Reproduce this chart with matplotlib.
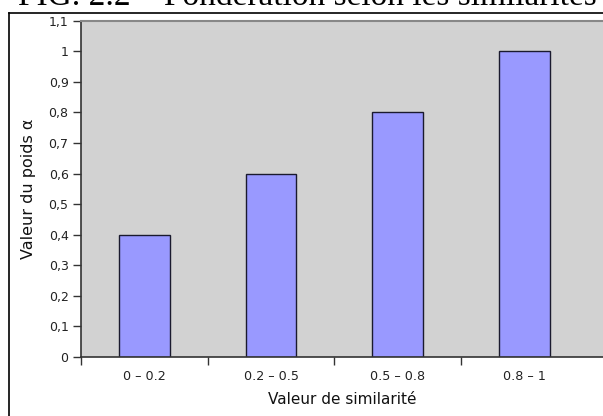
import matplotlib
matplotlib.use("Agg")
import matplotlib.pyplot as plt
from matplotlib.lines import Line2D

categories = ["0 – 0.2", "0.2 – 0.5", "0.5 – 0.8", "0.8 – 1"]
weights = [0.4, 0.6, 0.8, 1.0]
y_ticks = [0, 0.1, 0.2, 0.3, 0.4, 0.5, 0.6, 0.7, 0.8, 0.9, 1.0, 1.1]

W, H = 603, 416
fig = plt.figure(figsize=(W / 100, H / 100), dpi=100)

# plot area runs off the right edge of the page
ax = fig.add_axes([81 / W, 1 - 357 / H, (W - 81) / W, (357 - 20.7) / H])
ax.set_facecolor("#d2d2d2")

x = list(range(len(categories)))
ax.bar(x, weights, width=0.4, color="#9999ff", edgecolor="#1a1a2e", linewidth=1.0, zorder=2)

ax.set_xlim(-0.5, -0.5 + (W - 81) / 126.7)
ax.set_ylim(0, 1.1)

ax.set_yticks(y_ticks)
ax.set_yticklabels([("%g" % v).replace(".", ",") for v in y_ticks], fontsize=9, color="#222222")
ax.set_xticks([i - 0.5 for i in x])
ax.set_xticklabels([])
ax.set_xticks(x, minor=True)
ax.set_xticklabels(categories, minor=True, fontsize=9.2, color="#222222")
ax.tick_params(axis="x", which="minor", length=0, pad=9)
ax.tick_params(axis="x", which="major", length=6, width=1, color="#333333", direction="out")
ax.tick_params(axis="y", length=6, width=1, color="#333333", direction="out", pad=3)

for side in ["left", "bottom"]:
    ax.spines[side].set_color("#333333")
    ax.spines[side].set_linewidth(1.2)
ax.spines["top"].set_color("#888888")
ax.spines["top"].set_linewidth(1.5)
ax.spines["right"].set_visible(False)

ax.set_xlabel("Valeur de similarité", fontsize=11, color="#111111", labelpad=7)
ax.set_ylabel("Valeur du poids α", fontsize=11.5, color="#111111", labelpad=9)

# page frame and clipped caption above it
fig.add_artist(Line2D([9 / W, 9 / W], [0, 1 - 13 / H], transform=fig.transFigure, color="black", lw=1.2))
fig.add_artist(Line2D([9 / W, 1], [1 - 13 / H, 1 - 13 / H], transform=fig.transFigure, color="black", lw=1.2))
fig.text(18 / W, 1 - 5 / H, "FIG. 2.2 – Pondération selon les similarités",
         fontsize=24, family="Liberation Serif", va="baseline", ha="left", color="black")

fig.savefig("out.png", dpi=100)
